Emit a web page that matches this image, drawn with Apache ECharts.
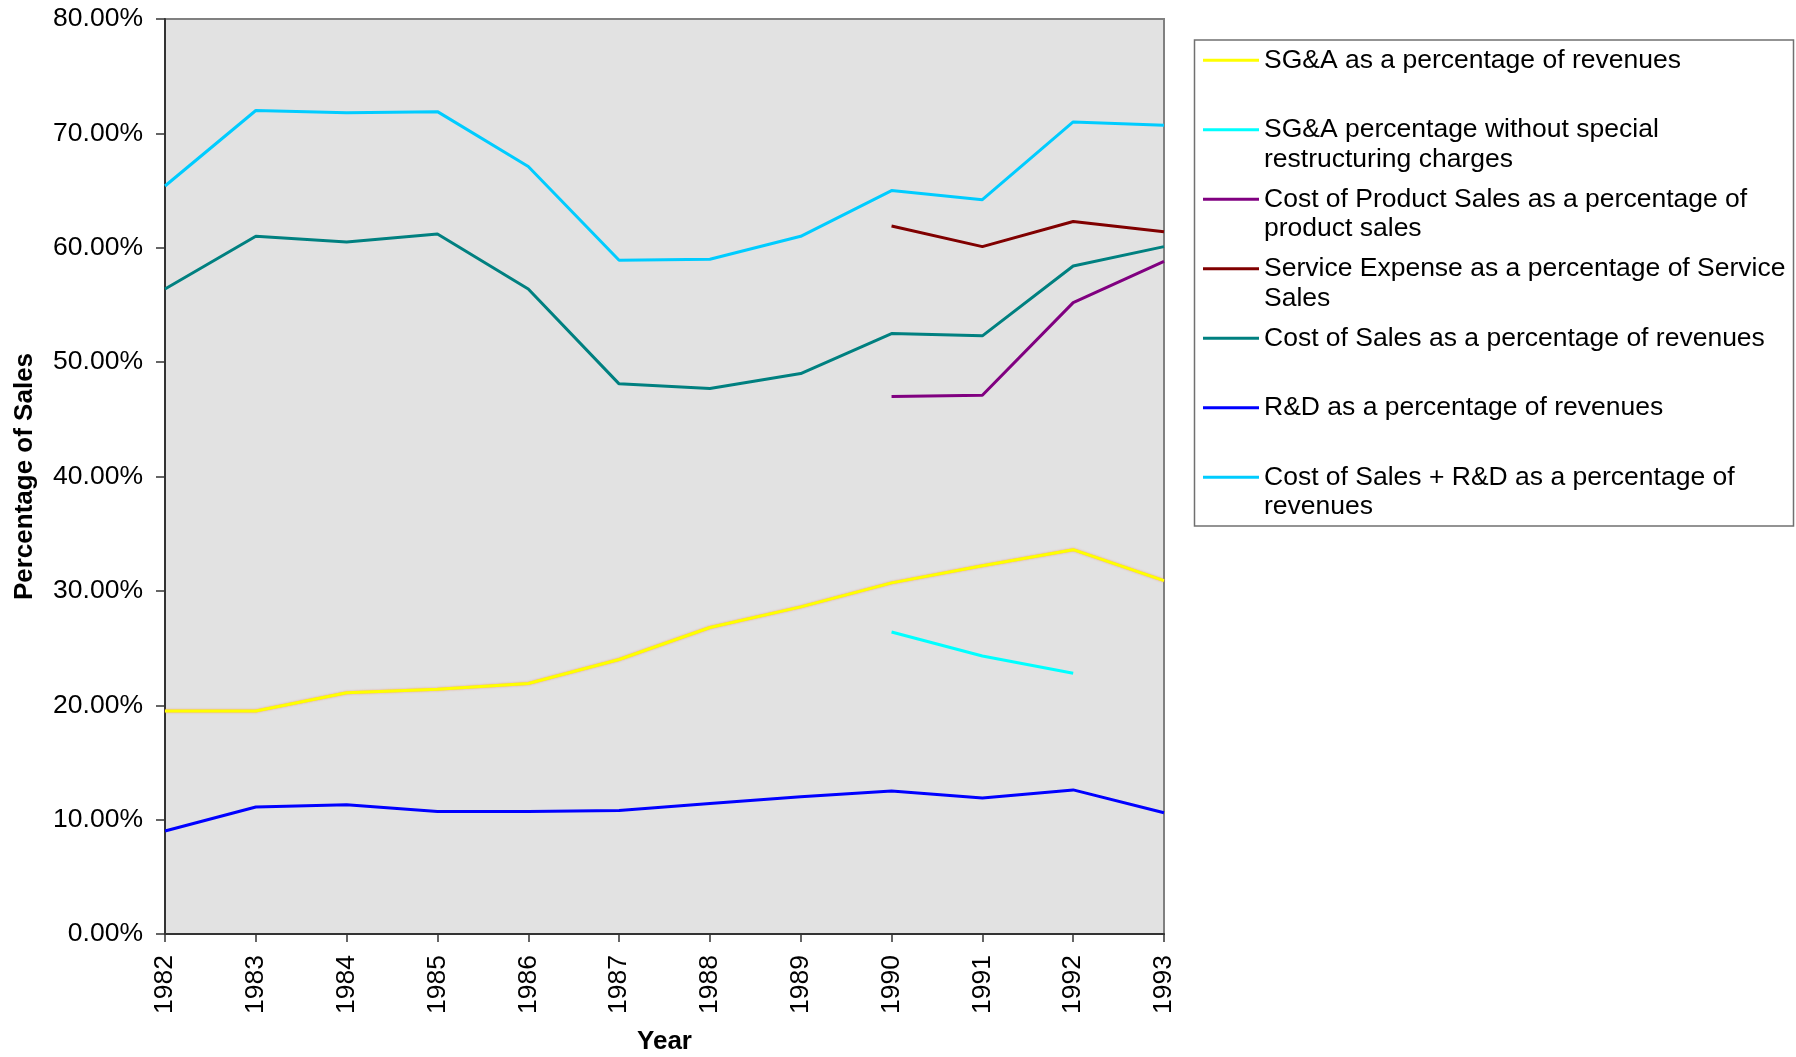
<!DOCTYPE html>
<html>
<head>
<meta charset="utf-8">
<title>Expense ratios 1982-1993</title>
<script src="https://cdn.jsdelivr.net/npm/echarts@6/dist/echarts.min.js"></script>
<style>
  html, body { margin: 0; padding: 0; background: #ffffff; }
  #chart { width: 1796px; height: 1057px; }
</style>
</head>
<body>
<div id="chart"></div>
<script>
// Fiscal years on the category axis
const years = ['1982', '1983', '1984', '1985', '1986', '1987', '1988', '1989', '1990', '1991', '1992', '1993'];

// Ratios in percent of the relevant base (null = not reported)
const sgaPct             = [19.5, 19.5, 21.1, 21.4, 21.9, 24.0, 26.8, 28.6, 30.7, 32.2, 33.6, 30.9];
const sgaNoRestructuring = [null, null, null, null, null, null, null, null, 26.4, 24.3, 22.8, null];
const costProductSales   = [null, null, null, null, null, null, null, null, 47.0, 47.1, 55.2, 58.8];
const serviceExpense     = [null, null, null, null, null, null, null, null, 61.9, 60.1, 62.3, 61.4];
const costOfSales        = [56.4, 61.0, 60.5, 61.2, 56.4, 48.1, 47.7, 49.0, 52.5, 52.3, 58.4, 60.1];
const rdPct              = [9.0, 11.1, 11.3, 10.7, 10.7, 10.8, 11.4, 12.0, 12.5, 11.9, 12.6, 10.6];
const costSalesPlusRd    = [65.4, 72.0, 71.8, 71.9, 67.1, 58.9, 59.0, 61.0, 65.0, 64.2, 71.0, 70.7];

// Y-axis range and step, in percent
const yMin = 0, yMax = 80, yStep = 10;

// Series names and their wrapped legend text
const seriesNames = [
  'SG&A as a percentage of revenues',
  'SG&A percentage without special restructuring charges',
  'Cost of Product Sales as a percentage of product sales',
  'Service Expense as a percentage of Service Sales',
  'Cost of Sales as a percentage of revenues',
  'R&D as a percentage of revenues',
  'Cost of Sales + R&D as a percentage of revenues'
];
const legendLines = [
  ['SG&A as a percentage of revenues'],
  ['SG&A percentage without special', 'restructuring charges'],
  ['Cost of Product Sales as a percentage of', 'product sales'],
  ['Service Expense as a percentage of Service', 'Sales'],
  ['Cost of Sales as a percentage of revenues'],
  ['R&D as a percentage of revenues'],
  ['Cost of Sales + R&D as a percentage of', 'revenues']
];
const seriesValues = [sgaPct, sgaNoRestructuring, costProductSales, serviceExpense, costOfSales, rdPct, costSalesPlusRd];
const seriesColors = ['#FFFF00', '#00FFFF', '#800080', '#800000', '#008080', '#0000FF', '#00CCFF'];

const FONT = '"Liberation Sans", Arial, Helvetica, sans-serif';

const chart = echarts.init(document.getElementById('chart'), null, { renderer: 'canvas' });

const series = seriesNames.map((name, i) => {
  const lineStyle = { color: seriesColors[i], width: 3 };
  if (i === 0) {
    // thin warm halo around the yellow line
    lineStyle.shadowColor = 'rgba(240,130,90,0.75)';
    lineStyle.shadowBlur = 2;
  }
  return {
    name: name,
    type: 'line',
    data: seriesValues[i],
    color: seriesColors[i],
    showSymbol: false,
    symbol: 'none',
    connectNulls: false,
    lineStyle: lineStyle,
    emphasis: { disabled: true },
    z: 3
  };
});

// Each legend entry is three text lines tall with the swatch on the middle line,
// so that wrapped entries keep the swatch next to their first line.
const legendText = {};
seriesNames.forEach((n, i) => {
  const l = legendLines[i];
  legendText[n] = ' \n' + l[0] + '\n' + (l[1] || ' ');
});

chart.setOption({
  animation: false,
  backgroundColor: '#ffffff',
  textStyle: { fontFamily: FONT },
  grid: {
    left: 165, top: 19, width: 999, height: 915,
    show: true,
    backgroundColor: '#E2E2E2',
    borderColor: '#808080',
    borderWidth: 2,
    containLabel: false,
    outerBoundsMode: 'none'
  },
  legend: {
    orient: 'vertical',
    left: 1203,
    top: 14,
    padding: 0,
    itemGap: -23,
    itemWidth: 56,
    itemHeight: 3,
    icon: 'rect',
    selectedMode: false,
    data: seriesNames,
    formatter: n => legendText[n],
    textStyle: { fontFamily: FONT, fontSize: 26.5, color: '#000', lineHeight: 29.5, padding: [4, 0, 0, 0] }
  },
  graphic: [{
    type: 'rect',
    shape: { x: 1194.5, y: 40, width: 599, height: 486 },
    style: { fill: 'none', stroke: '#707070', lineWidth: 1.5 },
    silent: true,
    z: 1
  }],
  xAxis: {
    type: 'category',
    data: years,
    boundaryGap: false,
    name: 'Year',
    nameLocation: 'middle',
    nameGap: 95,
    nameTextStyle: { fontFamily: FONT, fontSize: 26, fontWeight: 'bold', color: '#000' },
    axisLine: { show: true, lineStyle: { color: '#333', width: 2 } },
    axisTick: { show: true, inside: false, length: 8, interval: 0, lineStyle: { color: '#333', width: 1.5 } },
    axisLabel: { interval: 0, rotate: 90, margin: 21, fontFamily: FONT, fontSize: 26.5, color: '#000' },
    splitLine: { show: false }
  },
  yAxis: {
    type: 'value',
    min: yMin, max: yMax, interval: yStep,
    name: 'Percentage of Sales',
    nameLocation: 'middle',
    nameRotate: 90,
    nameGap: 127,
    nameTextStyle: { fontFamily: FONT, fontSize: 26, fontWeight: 'bold', color: '#000' },
    axisLine: { show: true, lineStyle: { color: '#333', width: 2 } },
    axisTick: { show: true, inside: false, length: 9, lineStyle: { color: '#333', width: 1.5 } },
    axisLabel: { margin: 22, fontFamily: FONT, fontSize: 26.5, color: '#000', formatter: v => v.toFixed(2) + '%' },
    splitLine: { show: false }
  },
  series: series
});
</script>
</body>
</html>
